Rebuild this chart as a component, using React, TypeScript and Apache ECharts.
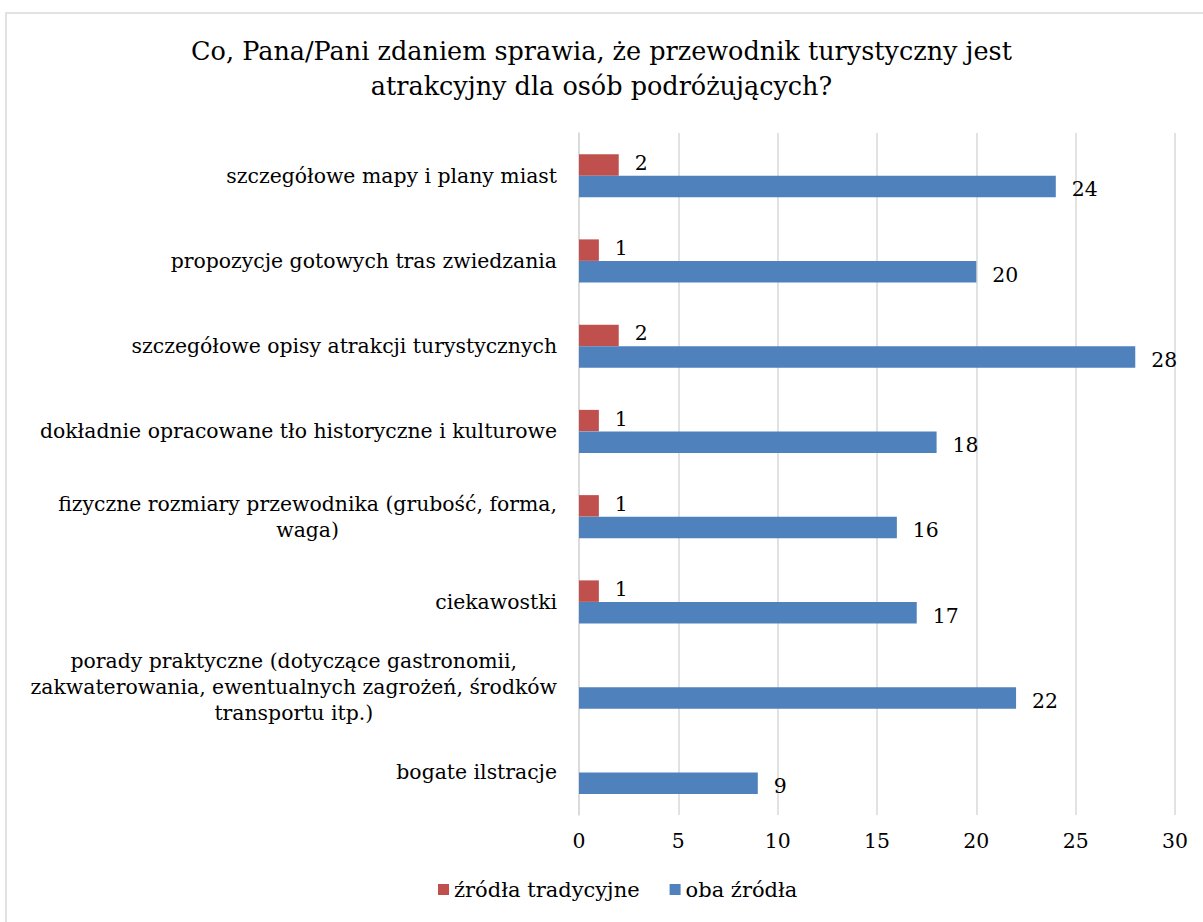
import React, { useEffect, useRef } from "react";
import * as echarts from "echarts";

const categories = [
  "szczegółowe mapy i plany miast",
  "propozycje gotowych tras zwiedzania",
  "szczegółowe opisy atrakcji turystycznych",
  "dokładnie opracowane tło historyczne i kulturowe",
  "fizyczne rozmiary przewodnika (grubość, forma, waga)",
  "ciekawostki",
  "porady praktyczne (dotyczące gastronomii, zakwaterowania, ewentualnych zagrożeń, środków transportu itp.)",
  "bogate ilstracje",
];

const wrapped: Record<string, string[]> = {
  "fizyczne rozmiary przewodnika (grubość, forma, waga)": [
    "fizyczne rozmiary przewodnika (grubość, forma,",
    "waga)",
  ],
  "porady praktyczne (dotyczące gastronomii, zakwaterowania, ewentualnych zagrożeń, środków transportu itp.)": [
    "porady praktyczne (dotyczące gastronomii,",
    "zakwaterowania, ewentualnych zagrożeń, środków",
    "transportu itp.)",
  ],
};

const traditional: (number | null)[] = [2, 1, 2, 1, 1, 1, null, null];
const both: number[] = [24, 20, 28, 18, 16, 17, 22, 9];

const seriesNames = ["źródła tradycyjne", "oba źródła"];
const xTicks = { min: 0, max: 30, interval: 5 };

const FONT = "'DejaVu Serif', serif";
const FS = 20.4;

export default function App() {
  const ref = useRef<HTMLDivElement>(null);
  useEffect(() => {
    if (!ref.current) return;
    const chart = echarts.init(ref.current, undefined, { renderer: "svg" });
    const labelStyle = {
      show: true,
      position: "right" as const,
      distance: 16,
      fontFamily: FONT,
      fontSize: FS,
      color: "#000",
    };
    chart.setOption({
      animation: false,
      backgroundColor: "#fff",
      title: {
        text: "Co, Pana/Pani zdaniem sprawia, że przewodnik turystyczny jest\natrakcyjny dla osób podróżujących?",
        left: "center",
        top: 28,
        textStyle: {
          fontFamily: FONT,
          fontSize: 25.5,
          fontWeight: "normal",
          color: "#000",
          lineHeight: 35,
        },
      },
      graphic: [
        {
          type: "rect",
          shape: { x: 6, y: 13, width: 1210, height: 920 },
          style: { fill: "none", stroke: "#d9d9d9", lineWidth: 1.5 },
          silent: true,
        },
      ],
      legend: {
        bottom: 17,
        left: 433,
        itemWidth: 11,
        itemHeight: 11,
        itemGap: 30,
        icon: "rect",
        textStyle: { fontFamily: FONT, fontSize: 21, color: "#000" },
        data: seriesNames,
      },
      grid: { left: 579, right: 28, top: 133, bottom: 107 },
      xAxis: {
        type: "value",
        min: xTicks.min,
        max: xTicks.max,
        interval: xTicks.interval,
        axisLine: { show: false },
        axisTick: { show: false },
        splitLine: { lineStyle: { color: "#d9d9d9", width: 1.5 } },
        axisLabel: { fontFamily: FONT, fontSize: FS, color: "#000", margin: 16 },
      },
      yAxis: {
        type: "category",
        inverse: true,
        data: categories,
        axisLine: { show: true, lineStyle: { color: "#d9d9d9", width: 1.5 } },
        axisTick: { show: false },
        axisLabel: {
          margin: 22,
          fontFamily: FONT,
          fontSize: FS,
          color: "#000",
          lineHeight: 26,
          formatter: (v: string) => {
            const lines = wrapped[v] || [v];
            return lines.map((l) => `{c|${l}}`).join("\n");
          },
          rich: {
            c: { align: "center", fontFamily: FONT, fontSize: FS, color: "#000", lineHeight: 26 },
          },
        },
      },
      series: [
        {
          name: seriesNames[0],
          type: "bar",
          data: traditional,
          barWidth: 21.5,
          barGap: "0%",
          itemStyle: { color: "#C0504D" },
          label: { ...labelStyle, offset: [0, -2] },
        },
        {
          name: seriesNames[1],
          type: "bar",
          data: both,
          barWidth: 21.5,
          barGap: "0%",
          itemStyle: { color: "#4F81BD" },
          label: { ...labelStyle, offset: [0, 3] },
        },
      ],
    });
    return () => chart.dispose();
  }, []);
  return (
    <div
      ref={ref}
      style={{ position: "fixed", left: 0, top: 0, width: 1203, height: 922 }}
    />
  );
}
